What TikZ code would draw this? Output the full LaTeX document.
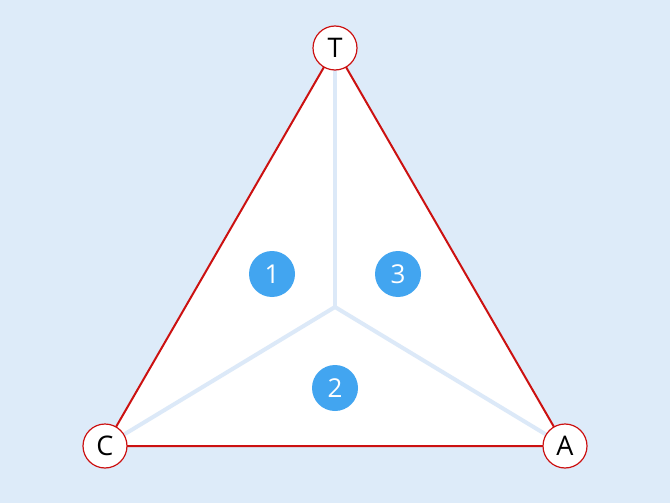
\documentclass[tikz,border=0pt]{standalone}
\usepackage{fontspec}
\setmainfont{Open Sans}
\definecolor{bgc}{HTML}{DDEBF9}
\definecolor{redc}{HTML}{CC1111}
\definecolor{bluec}{HTML}{42A5F0}
\definecolor{linec}{HTML}{DCE9F8}
\begin{document}
\begin{tikzpicture}[x=1pt,y=-1pt,
  vert/.style={circle,draw=redc,line width=1.2pt,fill=white,minimum size=44pt,inner sep=0pt,font=\fontsize{27}{27}\selectfont},
  num/.style={circle,fill=bluec,text=white,minimum size=46pt,inner sep=0pt,font=\fontsize{26}{26}\selectfont},
  edge/.style={draw=redc,line width=2pt},
  inner/.style={draw=linec,line width=4pt}]
\useasboundingbox (0,0) rectangle (670,503);
\fill[bgc] (0,0) rectangle (670,503);
\coordinate (t) at (335,48);
\coordinate (c) at (105,446);
\coordinate (a) at (565,446);
\coordinate (o) at (335,307);
\fill[white] (t) -- (c) -- (a) -- cycle;
\draw[inner] (o) -- (t);
\draw[inner] (o) -- (c);
\draw[inner] (o) -- (a);
\draw[edge] (t) -- (c) -- (a) -- cycle;
\node[vert] (T) at (t) {T};
\node[vert] (C) at (c) {C};
\node[vert] (A) at (a) {A};
\node[num] (n1) at (272,274) {1};
\node[num] (n3) at (398,274) {3};
\node[num] (n2) at (335,388) {2};
\end{tikzpicture}
\end{document}
